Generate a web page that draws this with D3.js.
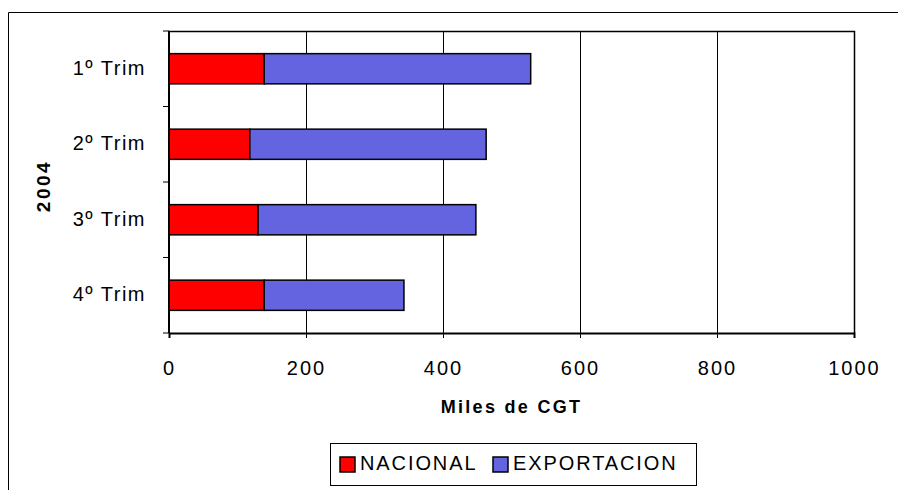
<!DOCTYPE html>
<html>
<head>
<meta charset="utf-8">
<script src="https://cdn.jsdelivr.net/npm/d3@7"></script>
<style>
  body { margin: 0; background: #fff; }
  svg { font-family: "Liberation Sans", Arial, sans-serif; }
</style>
</head>
<body>
<svg id="chart" width="898" height="490"></svg>
<script>
// datos
var trimestres = ["1º Trim", "2º Trim", "3º Trim", "4º Trim"];
var nacional = [139, 118, 130, 139];
var exportacion = [389, 345, 318, 204];
var xTicks = [0, 200, 400, 600, 800, 1000];
var series = ["NACIONAL", "EXPORTACION"];
var colores = ["#ff0000", "#6464e0"];

var svg = d3.select("#chart");
var margin = { top: 31, left: 169, right: 44, bottom: 157 };
var width = 898 - margin.left - margin.right,
    height = 490 - margin.top - margin.bottom;

// marco exterior (cortado a la derecha y abajo)
svg.append("path")
  .attr("d", "M8.5,490 V12.5 H898")
  .attr("fill", "none")
  .attr("stroke", "#000")
  .attr("stroke-width", 1);

var g = svg.append("g")
  .attr("transform", "translate(" + margin.left + "," + margin.top + ")");

var x = d3.scaleLinear().domain([0, 1000]).range([0, width]);
var y = d3.scaleBand().domain(trimestres).range([0, height]).paddingInner(0.6).paddingOuter(0.3);
var yBand = d3.scaleBand().domain(trimestres).range([0, height]);

// lineas de rejilla
g.selectAll(".grid")
  .data(xTicks.slice(1, -1))
  .enter().append("line")
  .attr("x1", function(d) { return Math.round(x(d)) + 0.5; })
  .attr("x2", function(d) { return Math.round(x(d)) + 0.5; })
  .attr("y1", 0)
  .attr("y2", height)
  .attr("stroke", "#000")
  .attr("stroke-width", 1);

// datos apilados
var filas = trimestres.map(function(t, i) {
  return { trim: t, NACIONAL: nacional[i], EXPORTACION: exportacion[i] };
});
var stack = d3.stack().keys(series)(filas);

g.selectAll(".serie")
  .data(stack)
  .enter().append("g")
  .attr("fill", function(d, i) { return colores[i]; })
  .selectAll("rect")
  .data(function(d) { return d; })
  .enter().append("rect")
  .attr("x", function(d) { return x(d[0]); })
  .attr("y", function(d) { return y(d.data.trim); })
  .attr("width", function(d) { return x(d[1]) - x(d[0]); })
  .attr("height", y.bandwidth())
  .attr("stroke", "#000")
  .attr("stroke-width", 1.5);

// borde del area de trazado
g.append("path")
  .attr("d", "M0," + height + " V0.5 H" + (width + 0.5) + " V" + height)
  .attr("fill", "none")
  .attr("stroke", "#000")
  .attr("stroke-width", 1.5);

// eje x
var xAxis = g.append("g")
  .attr("transform", "translate(0," + height + ")")
  .call(d3.axisBottom(x).tickValues(xTicks).tickSize(5).tickFormat(d3.format("d")));
xAxis.select(".domain").attr("stroke-width", 2);
xAxis.selectAll("text")
  .attr("y", 42).attr("dy", 0)
  .attr("font-size", 20)
  .attr("letter-spacing", 2)
  .attr("fill", "#000")
  .attr("font-family", "Liberation Sans, Arial, sans-serif");

// eje y con marcas entre categorias
var yAxis = g.append("g");
yAxis.append("line")
  .attr("x1", 0).attr("x2", 0).attr("y1", 0).attr("y2", height)
  .attr("stroke", "#000").attr("stroke-width", 2);
var bordes = [0].concat(trimestres.map(function(t) { return yBand(t) + yBand.bandwidth(); }));
yAxis.selectAll(".tk")
  .data(bordes)
  .enter().append("line")
  .attr("x1", -6).attr("x2", 0)
  .attr("y1", function(d) { return d; })
  .attr("y2", function(d) { return d; })
  .attr("stroke", "#000");
yAxis.selectAll(".lbl")
  .data(trimestres)
  .enter().append("text")
  .attr("x", -23)
  .attr("y", function(d) { return yBand(d) + yBand.bandwidth() / 2; })
  .attr("dy", "0.3em")
  .attr("text-anchor", "end")
  .attr("font-size", 20)
  .attr("letter-spacing", 1.5)
  .text(function(d) { return d; });

// titulos de ejes
svg.append("text")
  .attr("x", margin.left + width / 2)
  .attr("y", 413)
  .attr("text-anchor", "middle")
  .attr("font-size", 18)
  .attr("letter-spacing", 2.3)
  .attr("font-weight", "bold")
  .text("Miles de CGT");

svg.append("text")
  .attr("transform", "translate(50," + (margin.top + height / 2 + 4) + ") rotate(-90)")
  .attr("text-anchor", "middle")
  .attr("font-size", 19)
  .attr("letter-spacing", 2.5)
  .attr("font-weight", "bold")
  .text("2004");

// leyenda
var leg = svg.append("g").attr("transform", "translate(330,443)");
leg.append("rect")
  .attr("x", 0.5).attr("y", 0.5).attr("width", 366).attr("height", 42)
  .attr("fill", "#fff").attr("stroke", "#000");
var posLeg = [10, 163];
series.forEach(function(s, i) {
  leg.append("rect")
    .attr("x", posLeg[i]).attr("y", 14).attr("width", 15).attr("height", 15)
    .attr("fill", colores[i]).attr("stroke", "#000").attr("stroke-width", 1.5);
  leg.append("text")
    .attr("x", posLeg[i] + 20).attr("y", 27)
    .attr("font-size", 20)
    .attr("letter-spacing", 1.9)
    .text(s);
});
</script>
</body>
</html>
